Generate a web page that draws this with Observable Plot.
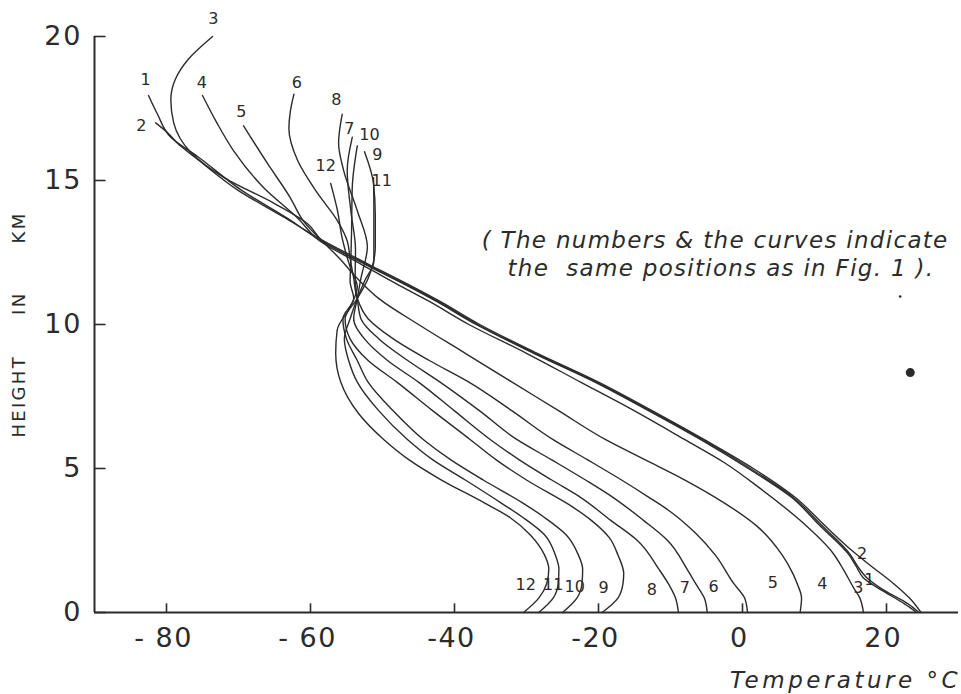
<!DOCTYPE html>
<html>
<head>
<meta charset="utf-8">
<script src="https://cdn.jsdelivr.net/npm/d3@7"></script>
<script src="https://cdn.jsdelivr.net/npm/@observablehq/plot@0.6"></script>
<style>
  html, body { margin: 0; padding: 0; background: #ffffff; }
  #chart svg { display: block; }
</style>
</head>
<body>
<div id="chart"></div>
<script>
// ---- Data: temperature profiles [height km, temperature °C] ----
const profile1 = [[0,24.2],[0.3,22.5],[0.75,19.5],[1.2,16.8],[1.6,15.8],[2,14.8],[3,10.8],[4,6.8],[5,0.8],[6,-5.8],[7,-13],[8,-20.5],[9,-29],[10,-37],[10.8,-42.5],[11.4,-47],[12.1,-52.5],[12.9,-58.5],[13.7,-63.3],[14.65,-69.5],[15.8,-75.5],[16.5,-79.4],[17.3,-81.25],[17.95,-82.5]];
const profile2 = [[0,24.8],[0.5,23.2],[1,21],[1.7,17.4],[2.15,15.2],[3,11.5],[4,7.3],[5,1.5],[6,-5.3],[7,-12.5],[8,-20],[9,-28.5],[10,-36.5],[10.8,-42],[11.4,-46.5],[12.1,-52],[12.9,-58.2],[13.7,-63.5],[14.65,-70],[15.8,-76],[16.3,-78.5],[16.6,-79.6],[17,-81.5]];
const profile3 = [[0,24.5],[0.3,23],[0.75,19.8],[1.2,17.3],[1.6,16],[2,15],[3,11.1],[4,7],[5,1.1],[6,-5.5],[7,-12.8],[8,-20.3],[9,-28.8],[10,-36.8],[10.8,-42.3],[11.4,-46.8],[12.1,-52.3],[12.9,-58.3],[13.5,-60.4],[14.2,-65],[15.1,-72],[16,-76.7],[17,-79],[17.8,-79.4],[18.5,-78.8],[19.2,-77],[20,-73.6]];
const profile4 = [[0,16.8],[0.5,16.3],[0.87,15.4],[1.5,14],[2.05,12.6],[3.2,8],[4.3,2.5],[5.2,-2.5],[6,-8],[7,-15],[8,-22.5],[9,-30],[10,-38],[10.8,-43.5],[11.4,-48],[12.1,-53],[12.9,-58.7],[13.7,-61.8],[14.75,-66.5],[16.04,-70.7],[17,-73],[17.95,-75]];
const profile5 = [[0,8],[0.5,8.2],[1,7.6],[1.35,7],[2,5.5],[3,2],[3.8,-2.5],[4.6,-8],[5.3,-13.5],[6,-19],[7,-25.5],[8,-32],[9,-38.5],[10,-45],[10.9,-50.5],[11.6,-53.5],[12.3,-56],[12.8,-58],[13.6,-61],[14.4,-62.8],[15.6,-66],[16.9,-69.3]];
const profile6 = [[0,0.7],[0.5,0.3],[1,-1.2],[2,-3.8],[2.75,-6.5],[3.5,-10],[4,-13],[4.6,-16.8],[5.3,-21.5],[6,-26.3],[7,-32],[8,-38],[8.75,-43.5],[9.5,-48.5],[10.2,-52],[10.9,-53.5],[11.6,-54],[12.3,-54.5],[12.9,-54.9],[13.6,-56.25],[14.55,-59],[15.7,-61.8],[16.8,-63],[17.4,-62.8],[18,-62.3]];
const profile7 = [[0,-4.9],[0.5,-5.3],[1,-6.5],[1.46,-7.6],[2.5,-10.4],[3.2,-13.75],[4,-18],[4.6,-21.8],[5.3,-26.5],[6,-31.3],[7,-36.5],[8,-42],[8.75,-46.5],[9.5,-50.5],[10.2,-53],[10.9,-53.5],[11.6,-53.8],[12.6,-53.75],[13.95,-54.4],[15.35,-54.9],[16.5,-54.2]];
const profile8 = [[0,-8.9],[0.5,-9.3],[1,-10.3],[1.5,-11.6],[2.5,-14.6],[3.2,-18.3],[4,-22.5],[4.6,-26.5],[5.3,-31],[6,-35],[7,-40],[8,-45],[8.75,-49.3],[9.5,-52.5],[10.2,-54],[10.9,-53.5],[11.6,-53],[12.7,-52.1],[13.95,-53.5],[15.35,-55.4],[16.3,-56.1],[17.3,-55.6]];
const profile9 = [[0,-19.5],[0.5,-17.3],[1,-16.6],[1.35,-16.5],[2,-17.3],[2.6,-18.5],[3.2,-21],[3.65,-23.5],[4.6,-30],[5.3,-34.2],[6,-37.8],[7,-43],[8,-48],[8.75,-52],[9.5,-54.5],[10.2,-55.2],[10.9,-53.5],[11.6,-52],[12.7,-51],[13.8,-51],[14.9,-51.25],[16,-52.5]];
const profile10 = [[0,-25],[0.5,-23],[1,-22.3],[1.5,-22.2],[2,-22.8],[2.7,-24.5],[3.3,-27.5],[3.8,-30.5],[4.6,-36],[5.3,-40.5],[6,-44.3],[7,-48.5],[8,-52],[8.75,-53.5],[9.5,-55],[10.2,-55.5],[10.9,-54],[11.5,-54.5],[12.2,-54.4],[13.2,-54.3],[14.75,-54.2],[16.2,-53.5]];
const profile11 = [[0,-28.3],[0.5,-26.3],[1,-25.6],[1.5,-25.5],[2,-26],[2.7,-27.5],[3.3,-30.5],[3.8,-33.5],[4.6,-38.5],[5.3,-43],[6,-46.5],[7,-50.5],[8,-53.5],[8.75,-54.7],[9.5,-55.3],[10.2,-54.5],[10.9,-53.5],[11.5,-52.5],[12.2,-51.2],[13.2,-51.2],[14.2,-51.2],[15.1,-51.25]];
const profile12 = [[0,-30.4],[0.5,-28.3],[1,-27.2],[1.5,-26.9],[2,-27.5],[2.7,-29.5],[3.3,-32.3],[3.8,-35.8],[4.6,-41.8],[5.3,-46.3],[6,-49.8],[6.9,-53.3],[8,-55.8],[9,-56.5],[9.8,-56.3],[10.6,-54.5],[11.3,-53.5],[12,-54.5],[12.5,-55.1],[13,-55.6],[13.95,-56.25],[14.9,-57.2]];

const curveIds = ["1","2","3","4","5","6","7","8","9","10","11","12"];
const profiles = [profile1, profile2, profile3, profile4, profile5, profile6, profile7, profile8, profile9, profile10, profile11, profile12];

// Curve number labels: [label, temperature, height]
const topLabels = [["1",-82.9,18.5],["2",-83.5,16.9],["3",-73.5,20.6],["4",-75.1,18.4],["5",-69.6,17.4],["6",-61.9,18.4],["8",-56.4,17.8],["7",-54.6,16.8],["10",-51.8,16.6],["9",-50.7,15.9],["11",-50.1,15.0],["12",-57.9,15.5]];
const bottomLabels = [["12",-30.1,0.95],["11",-26.3,0.95],["10",-23.3,0.88],["9",-19.3,0.85],["8",-12.6,0.78],["7",-8,0.85],["6",-4,0.9],["5",4.2,1.04],["4",11.1,1.0],["3",16.1,0.85],["1",17.6,1.15],["2",16.6,2.05]];

// Axes
const xTicks = [-80, -60, -40, -20, 0, 20];
const xTickLabels = ["- 80", "- 60", "-40", "-20", "0", "20"];
const yTicks = [0, 5, 10, 15, 20];
const yTickLabels = ["0", "5", "10", "15", "20"];
const xTitle = "Temperature °C";
const yTitle = "HEIGHT\u00a0\u00a0\u00a0\u00a0\u00a0IN\u00a0\u00a0\u00a0\u00a0\u00a0\u00a0KM";
const noteLines = ["( The numbers & the curves indicate", "the\u00a0\u00a0same positions as in Fig. 1 )."];
const noteT = [-3.8, -3.0];
const noteH = [12.9, 11.95];
// ink specks visible on the original sheet
const specks = [[23.3, 8.33, 4.5], [21.9, 10.97, 1.3]];

// ---- build tables ----
const lineData = profiles.flatMap((p, i) => p.map(([h, t]) => ({id: curveIds[i], h, t})));
const topLab = topLabels.map(([label, t, h]) => ({label, t, h}));
const botLab = bottomLabels.map(([label, t, h]) => ({label, t, h}));
const xTickData = xTicks.map((v, i) => ({v, label: xTickLabels[i]}));
const yTickData = yTicks.map((v, i) => ({v, label: yTickLabels[i]}));
const noteData = noteLines.map((s, i) => ({s, t: noteT[i], h: noteH[i]}));
const speckData = specks.map(([t, h, r]) => ({t, h, r}));

const ink = "#2b2b2b";
const fontDigits = "DejaVu Sans, sans-serif";

const chart = Plot.plot({
  width: 961,
  height: 694,
  marginLeft: 94,
  marginRight: 3,
  marginTop: 36,
  marginBottom: 82,
  style: {background: "#ffffff", color: ink},
  x: {domain: [-90, 30], axis: null},
  y: {domain: [0, 20], axis: null},
  r: {type: "identity"},
  marks: [
    // profiles
    Plot.line(lineData, {x: "t", y: "h", z: "id", curve: "monotone-y", stroke: ink, strokeWidth: 1.4}),
    // axis lines
    Plot.ruleX([-90], {y1: 0, y2: 20, stroke: ink, strokeWidth: 2}),
    Plot.ruleY([0], {x1: -90, x2: 30, stroke: ink, strokeWidth: 2}),
    // ticks (inward)
    Plot.ruleX(xTickData, {x: "v", y1: 0, y2: 0.3, stroke: ink, strokeWidth: 1.6}),
    Plot.ruleY(yTickData, {y: "v", x1: -90, x2: -88.4, stroke: ink, strokeWidth: 1.6}),
    // tick labels
    Plot.text(xTickData, {x: "v", y: 0, text: "label", dy: 26, dx: -3, fontSize: 27, fontFamily: fontDigits, fill: ink, textAnchor: "middle"}),
    Plot.text(yTickData, {x: -90, y: "v", text: "label", dx: -12, fontSize: 27, fontFamily: fontDigits, fill: ink, textAnchor: "end"}),
    // axis titles
    Plot.text([yTitle], {frameAnchor: "left", dx: -75, rotate: -90, textAnchor: "middle", fontSize: 18, fontFamily: fontDigits, fill: ink}),
    Plot.text([xTitle], {x: () => 14.3, y: () => -2.35, fontSize: 23, fontStyle: "italic", fontFamily: "DejaVu Sans, sans-serif", fill: ink}),
    // note
    Plot.text(noteData, {x: "t", y: "h", text: "s", fontSize: 23, fontStyle: "italic", fontFamily: "DejaVu Sans, sans-serif", fill: ink}),
    // curve numbers
    Plot.text(topLab, {x: "t", y: "h", text: "label", fontSize: 16, fontFamily: fontDigits, fill: ink}),
    Plot.text(botLab, {x: "t", y: "h", text: "label", fontSize: 16, fontFamily: fontDigits, fill: ink}),
    // specks
    Plot.dot(speckData, {x: "t", y: "h", r: "r", fill: ink, stroke: null})
  ]
});
// letter spacing of the hand lettering, matched by text content
const spacing = new Map();
xTickLabels.forEach(s => spacing.set(s, "1.5px"));
yTickLabels.forEach(s => spacing.set(s, "2px"));
spacing.set(yTitle, "2.3px");
spacing.set(xTitle, "3.5px");
noteLines.forEach(s => spacing.set(s, "1.3px"));
const tickTextSet = new Set([...xTickLabels, ...yTickLabels]);
d3.select(chart).selectAll("text").each(function () {
  const s = this.textContent;
  if (spacing.has(s)) {
    const fs = parseFloat(this.getAttribute("font-size") || this.parentNode.getAttribute("font-size") || "0");
    if (tickTextSet.has(s) && fs < 20) return;
    this.style.letterSpacing = spacing.get(s);
  }
});
document.getElementById("chart").appendChild(chart);
</script>
</body>
</html>
